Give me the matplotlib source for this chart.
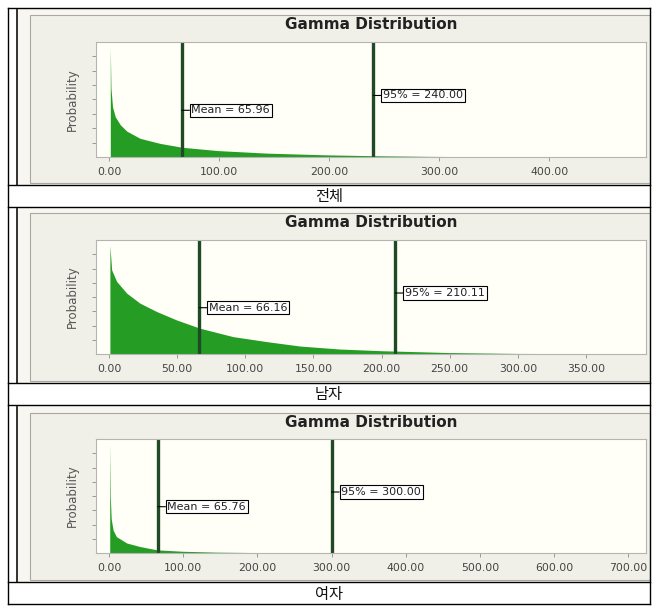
import matplotlib

matplotlib.use("Agg")
import matplotlib.pyplot as plt
from matplotlib.patches import Rectangle

W, H = 664, 613

# captions under each chart
captions = ["전체", "남자", "여자"]
mean_vals = [65.96, 66.16, 65.76]
p95_vals = [240.00, 210.11, 300.00]

# density profiles (y in units of the y-tick spacing)
x_total = [1, 1.6, 3, 5.5, 10, 16, 28, 46, 66, 98, 143, 197, 240, 290, 331]
d_total = [7.6, 4.8, 3.5, 2.8, 2.25, 1.8, 1.3, 0.95, 0.68, 0.45, 0.27, 0.15, 0.09, 0.045, 0.02]

x_male = [0.7, 2, 5.6, 13, 22.7, 35, 49.6, 66.7, 91, 115.6, 140, 169, 200, 250, 300, 355]
d_male = [7.6, 5.9, 5.1, 4.27, 3.57, 2.98, 2.39, 1.81, 1.22, 0.87, 0.56, 0.35, 0.23, 0.1, 0.04, 0.02]

x_female = [1, 1.8, 3, 5.6, 10, 24, 42, 65, 100, 145, 200, 280]
d_female = [7.6, 4.0, 2.4, 1.6, 1.15, 0.7, 0.45, 0.22, 0.12, 0.06, 0.03, 0.02]

xticks_total = [0, 100, 200, 300, 400]
xticks_male = [0, 50, 100, 150, 200, 250, 300, 350]
xticks_female = [0, 100, 200, 300, 400, 500, 600, 700]

series = [(x_total, d_total, xticks_total),
          (x_male, d_male, xticks_male),
          (x_female, d_female, xticks_female)]

# pixel layout of each panel (top-down): block top, grey frame top, title,
# plot top, plot bottom, caption line, caption bottom, x limits
LAYOUT = [
    dict(top=8, frame=15, title=24, ptop=42, pbot=157, cap=185, bot=207, xlim=(-12, 488)),
    dict(top=207, frame=213, title=222, ptop=240, pbot=354, cap=383, bot=405, xlim=(-9.5, 394)),
    dict(top=405, frame=413, title=422, ptop=439, pbot=553, cap=582, bot=604, xlim=(-17.5, 724)),
]
PL, PR = 96, 646
LEFT, RIGHT = 8, 650

GREEN = "#259d25"
LINE = "#1f4a25"

fig = plt.figure(figsize=(W / 100, H / 100), dpi=100, facecolor="white")
bg = fig.add_axes([0, 0, 1, 1])
bg.set_xlim(0, W)
bg.set_ylim(H, 0)
bg.axis("off")

for lay, cap, (xs, ds, ticks), m, q in zip(LAYOUT, captions, series, mean_vals, p95_vals):
    top, cl = lay["top"], lay["cap"]
    bg.add_patch(Rectangle((17, top), RIGHT - 17, cl - top, fc="#f7f6f0", ec="none", zorder=0))
    bg.add_patch(Rectangle((30, lay["frame"]), RIGHT - 30, cl - 2 - lay["frame"],
                           fc="#f1f0e8", ec="#a8a8a0", lw=0.8, zorder=1))
    bg.plot([17, 17], [top + 2, cl], color="#222222", lw=1.3, zorder=2)
    bg.text(371, lay["title"] + 0.5, "Gamma Distribution", ha="center", va="center",
            fontsize=11, weight="bold", color="#222222")
    bg.text(72, (lay["ptop"] + lay["pbot"]) / 2, "Probability", rotation=90,
            ha="center", va="center", fontsize=8.5, color="#555555")
    bg.text(329, (cl + lay["bot"]) / 2 + 1, cap, ha="center", va="center", fontsize=11,
            family=["Noto Sans CJK KR", "DejaVu Sans"], color="#111111")

    ax = fig.add_axes([PL / W, 1 - lay["pbot"] / H, (PR - PL) / W,
                       (lay["pbot"] - lay["ptop"]) / H])
    ax.set_facecolor("#fffff7")
    ax.fill_between(xs, ds, 0, color=GREEN, lw=0)
    ax.axvline(m, color=LINE, lw=2.4)
    ax.axvline(q, color=LINE, lw=2.4)
    box = dict(boxstyle="square,pad=0.15", fc="white", ec="black", lw=0.8)
    conn = dict(arrowstyle="-", color="black", lw=0.8, shrinkA=0, shrinkB=0)
    ax.annotate(f"Mean = {m:.2f}", xy=(m, 3.25), xytext=(7, 0), textcoords="offset points",
                ha="left", va="center", fontsize=8, color="#222222", bbox=box, arrowprops=conn)
    ax.annotate(f"95% = {q:.2f}", xy=(q, 4.28), xytext=(7, 0), textcoords="offset points",
                ha="left", va="center", fontsize=8, color="#222222", bbox=box, arrowprops=conn)

    ax.set_xlim(*lay["xlim"])
    ax.set_ylim(0, 8)
    ax.set_yticks(range(1, 8))
    ax.set_yticklabels([])
    ax.set_xticks(ticks)
    ax.set_xticklabels([f"{t:.2f}" for t in ticks])
    ax.tick_params(axis="both", length=3, color="#999999", width=0.7)
    ax.tick_params(axis="x", labelsize=7.8, labelcolor="#444444", pad=4)
    for s in ax.spines.values():
        s.set_color("#b4b4b4")
        s.set_linewidth(0.8)

# table grid
for y in [8, 185, 207, 383, 405, 582, 604]:
    bg.plot([LEFT, RIGHT], [y, y], color="black", lw=1.0, zorder=5)
for x in [LEFT, RIGHT]:
    bg.plot([x, x], [8, 604], color="black", lw=1.0, zorder=5)

fig.savefig("out.png", dpi=100)
